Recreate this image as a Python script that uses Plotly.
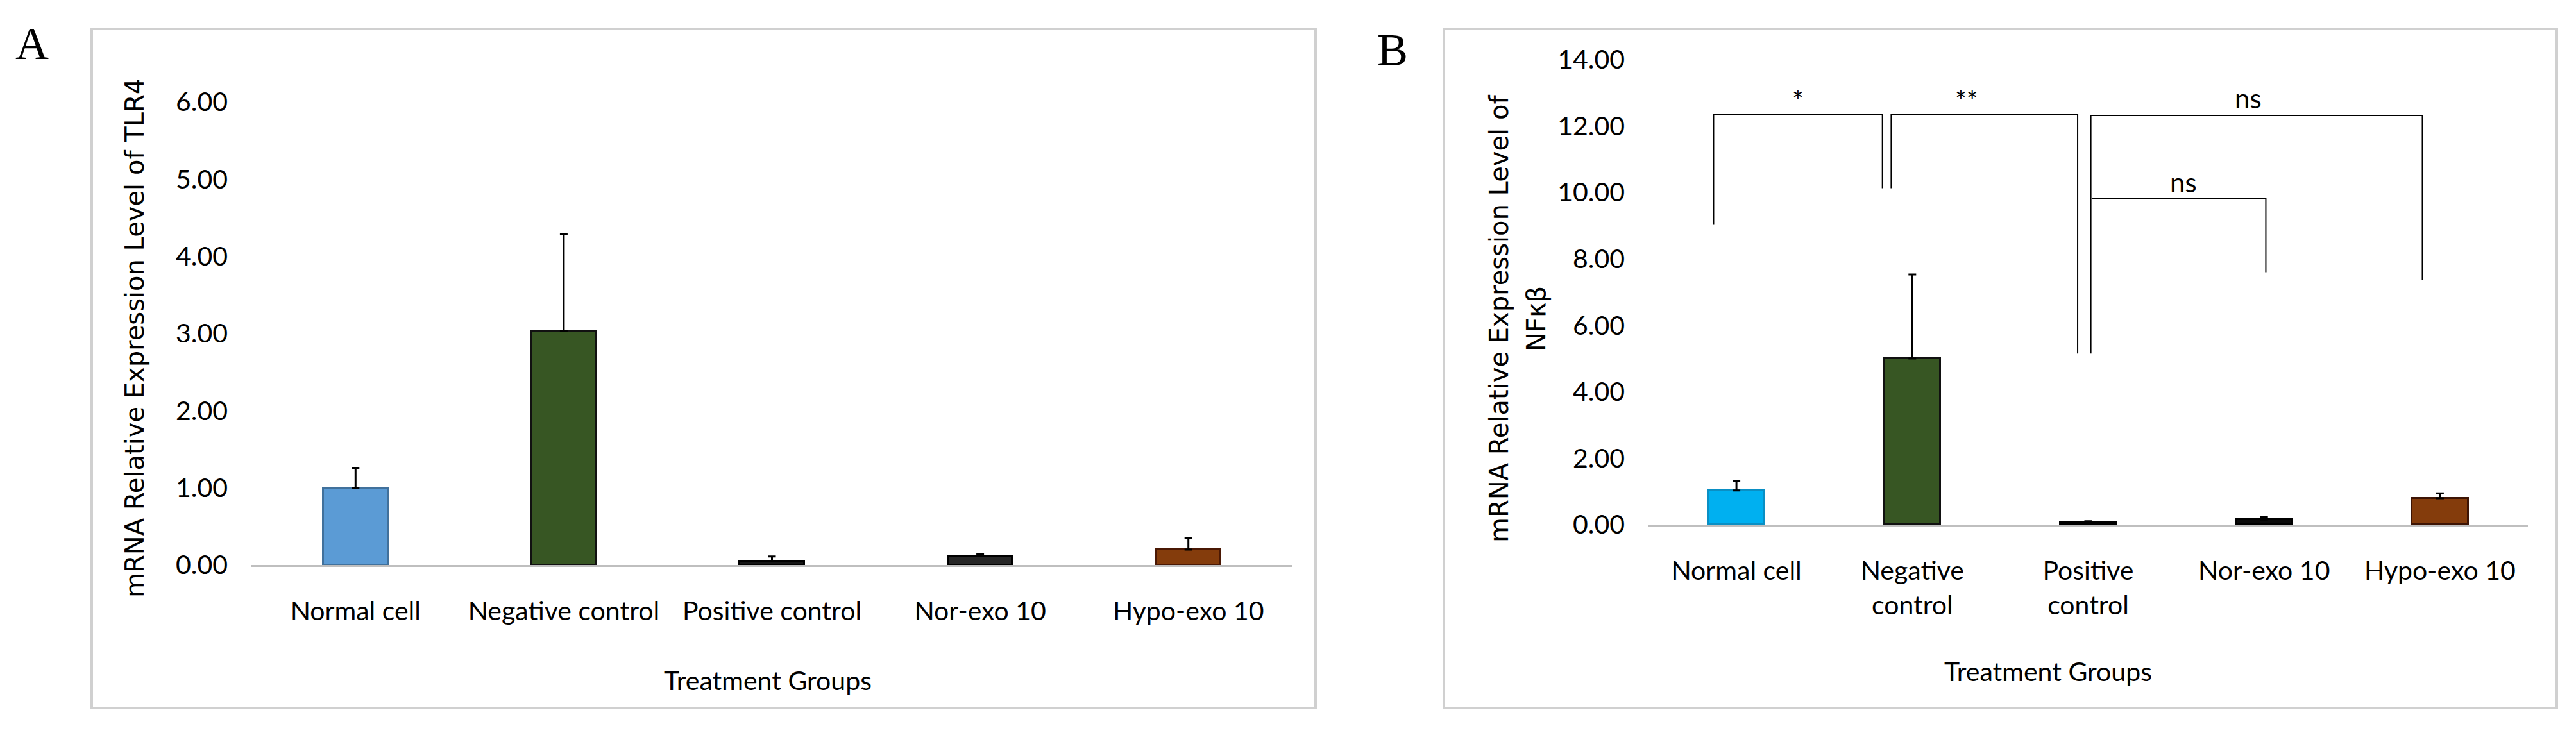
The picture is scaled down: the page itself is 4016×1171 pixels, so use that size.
import plotly.graph_objects as go

W, H = 4016, 1171
OFF = 8  # page body margin compensation (px)

# ---------------- data ----------------
categories_a = ["Normal cell", "Negative control", "Positive control", "Nor-exo 10", "Hypo-exo 10"]
values_a = [1.00, 3.03, 0.05, 0.12, 0.20]
errors_a = [0.26, 1.26, 0.06, 0.02, 0.15]
yticks_a = [0, 1, 2, 3, 4, 5, 6]

categories_b = ["Normal cell", "Negative<br>control", "Positive<br>control", "Nor-exo 10", "Hypo-exo 10"]
values_b = [1.03, 5.00, 0.05, 0.15, 0.79]
errors_b = [0.28, 2.53, 0.05, 0.08, 0.15]
yticks_b = [0, 2, 4, 6, 8, 10, 12, 14]

# significance brackets for panel B: (path points in category index / value units, label, label position)
sig_paths = [
    [(-0.13, 9.03), (-0.13, 12.34), (0.83, 12.34), (0.83, 10.13)],
    [(0.88, 10.13), (0.88, 12.34), (1.94, 12.34), (1.94, 5.15)],
    [(2.015, 5.15), (2.015, 12.32), (3.90, 12.32), (3.90, 7.36)],
    [(2.02, 9.83), (3.01, 9.83), (3.01, 7.60)],
]
sig_labels = ["*", "**", "ns", "ns"]
sig_label_pos = [(0.35, 12.78), (1.31, 12.78), (2.91, 12.85), (2.54, 10.32)]

colors_a = ["#5B9BD5", "#375623", "#151515", "#262626", "#843C0C"]
edges_a = ["#41719C", "#111111", "#000000", "#000000", "#4A1804"]
colors_b = ["#00B0F0", "#375623", "#0A0A0A", "#0A0A0A", "#843C0C"]
edges_b = ["#0A8FC4", "#111111", "#000000", "#000000", "#3D1404"]

TICKFONT = dict(family="Lato, 'Liberation Sans', sans-serif", size=41, color="#000000")
TITLEFONT = dict(family="'DejaVu Sans', sans-serif", size=40, color="#000000")

fig = go.Figure()

fig.add_trace(go.Bar(
    x=categories_a, y=values_a, width=0.31,
    marker=dict(color=colors_a, line=dict(color=edges_a, width=3)),
    error_y=dict(type="data", symmetric=False, array=errors_a, arrayminus=[0] * 5,
                 color="#000000", thickness=3, width=6),
    xaxis="x", yaxis="y", showlegend=False,
))
fig.add_trace(go.Bar(
    x=categories_b, y=values_b, width=0.32,
    marker=dict(color=colors_b, line=dict(color=edges_b, width=3)),
    error_y=dict(type="data", symmetric=False, array=errors_b, arrayminus=[0] * 5,
                 color="#000000", thickness=3, width=6),
    xaxis="x2", yaxis="y2", showlegend=False,
))

def px(x):
    return (x - OFF) / W

def py(y):
    return 1 - (y - OFF) / H

common_x = dict(type="category", showline=True, linecolor="#BFBFBF", linewidth=3,
                ticks="", showgrid=False, zeroline=False, tickfont=TICKFONT,
                range=[-0.5, 4.5], ticklabelstandoff=34, fixedrange=True, automargin=False)
common_y = dict(showline=False, ticks="", showgrid=False, zeroline=False,
                tickfont=TICKFONT, tickformat=".2f", ticklabelstandoff=36, fixedrange=True,
                automargin=False)

fig.update_layout(
    template="none",
    width=W, height=H, autosize=False,
    margin=dict(l=0, r=0, t=0, b=0, pad=0, autoexpand=False),
    paper_bgcolor="white", plot_bgcolor="white",
    bargap=0.0,
    xaxis=dict(domain=[px(392), px(2015)], anchor="y", **common_x),
    yaxis=dict(domain=[py(881), py(159)], anchor="x", range=[0, 6],
               tickvals=yticks_a, **common_y),
    xaxis2=dict(domain=[px(2570), px(3941)], anchor="y2", **common_x),
    yaxis2=dict(domain=[py(818), py(93)], anchor="x2", range=[0, 14],
                tickvals=yticks_b, **common_y),
)

shapes = []
# panel borders
for (x0, y0, x1, y1) in [(143, 45, 2051, 1104), (2251, 45, 3986, 1104)]:
    shapes.append(dict(type="rect", xref="paper", yref="paper",
                       x0=px(x0), x1=px(x1), y0=py(y1), y1=py(y0),
                       line=dict(color="#D0D0D0", width=4), fillcolor="rgba(0,0,0,0)"))
# significance brackets
for pts in sig_paths:
    d = "M " + " L ".join(f"{x},{y}" for x, y in pts)
    shapes.append(dict(type="path", xref="x2", yref="y2", path=d,
                       line=dict(color="#000000", width=2)))
fig.update_layout(shapes=shapes)

ann = []
ann.append(dict(text="A", xref="paper", yref="paper", x=px(50), y=py(68),
                showarrow=False, xanchor="center", yanchor="middle",
                font=dict(family="'Liberation Serif', serif", size=72, color="#000")))
ann.append(dict(text="B", xref="paper", yref="paper", x=px(2171), y=py(78),
                showarrow=False, xanchor="center", yanchor="middle",
                font=dict(family="'Liberation Serif', serif", size=72, color="#000")))
ann.append(dict(text="mRNA Relative Expression Level of TLR4", xref="paper", yref="paper",
                x=px(210), y=py(527), textangle=-90, showarrow=False,
                xanchor="center", yanchor="middle", font=TITLEFONT))
ann.append(dict(text="mRNA Relative Expression Level of", xref="paper", yref="paper",
                x=px(2337), y=py(497), textangle=-90, showarrow=False,
                xanchor="center", yanchor="middle", font=TITLEFONT))
ann.append(dict(text="NFκβ", xref="paper", yref="paper",
                x=px(2395), y=py(497), textangle=-90, showarrow=False,
                xanchor="center", yanchor="middle", font=TITLEFONT))
ann.append(dict(text="Treatment Groups", xref="paper", yref="paper",
                x=px(1197), y=py(1060), showarrow=False,
                xanchor="center", yanchor="middle", font=TICKFONT))
ann.append(dict(text="Treatment Groups", xref="paper", yref="paper",
                x=px(3193), y=py(1046), showarrow=False,
                xanchor="center", yanchor="middle", font=TICKFONT))
for lab, (lx, ly) in zip(sig_labels, sig_label_pos):
    ann.append(dict(text=lab, xref="x2", yref="y2", x=lx, y=ly, showarrow=False,
                    xanchor="center", yanchor="middle",
                    font=dict(family="Lato, 'Liberation Sans', sans-serif", size=42, color="#000")))
fig.update_layout(annotations=ann)

fig.write_html("out.html")
